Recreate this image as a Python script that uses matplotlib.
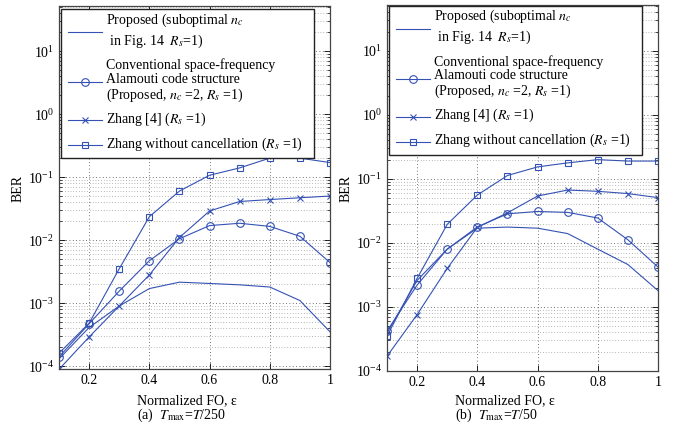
import matplotlib
matplotlib.use("Agg")
import matplotlib.pyplot as plt
from matplotlib.lines import Line2D
from matplotlib.patches import Rectangle

plt.rcParams['font.family'] = 'serif'
plt.rcParams['font.serif'] = ['Liberation Serif', 'DejaVu Serif']
plt.rcParams['mathtext.fontset'] = 'stix'
plt.rcParams['font.size'] = 10

# Normalized frequency offset
eps = [0.1, 0.2, 0.3, 0.4, 0.5, 0.6, 0.7, 0.8, 0.9, 1.0]

# (a) T_max = T/250
prop_a = [1.3e-4, 4.1e-4, 9.0e-4, 1.7e-3, 2.15e-3, 2.05e-3, 1.95e-3, 1.8e-3, 1.1e-3, 3.5e-4]
alam_a = [1.4e-4, 4.7e-4, 1.55e-3, 4.7e-3, 1.05e-2, 1.7e-2, 1.85e-2, 1.65e-2, 1.15e-2, 4.4e-3]
zhang_a = [8.9e-5, 2.9e-4, 9.0e-4, 2.8e-3, 1.1e-2, 2.9e-2, 4.1e-2, 4.4e-2, 4.7e-2, 5.0e-2]
nocan_a = [1.6e-4, 4.8e-4, 3.5e-3, 2.35e-2, 6.0e-2, 1.07e-1, 1.4e-1, 2.0e-1, 2.0e-1, 1.7e-1]

# (b) T_max = T/50
prop_b = [3.9e-4, 2.6e-3, 8.0e-3, 1.7e-2, 1.77e-2, 1.7e-2, 1.4e-2, 8.0e-3, 4.6e-3, 1.8e-3]
alam_b = [4.2e-4, 2.2e-3, 8.0e-3, 1.78e-2, 2.85e-2, 3.1e-2, 3.0e-2, 2.45e-2, 1.12e-2, 4.2e-3]
zhang_b = [1.7e-4, 7.6e-4, 4.0e-3, 1.75e-2, 2.95e-2, 5.4e-2, 6.7e-2, 6.4e-2, 5.9e-2, 5.1e-2]
nocan_b = [3.5e-4, 2.8e-3, 1.95e-2, 5.6e-2, 1.13e-1, 1.54e-1, 1.78e-1, 2.0e-1, 1.9e-1, 1.9e-1]

xticks = [0.2, 0.4, 0.6, 0.8, 1.0]
xticklabels = ['0.2', '0.4', '0.6', '0.8', '1']

COLOR = '#3452b4'
styles = [
    dict(marker='None'),
    dict(marker='o', ms=5.5, mfc='none'),
    dict(marker='x', ms=4),
    dict(marker='s', ms=4.2, mfc='none'),
]

legend_labels = [
    'Proposed (suboptimal $\\mathit{n}_{c}$\n in Fig. 14  $\\mathit{R}_{s}$=1)',
    'Conventional space-frequency\nAlamouti code structure\n'
    '(Proposed, $\\mathit{n}_{c}$ =2, $\\mathit{R}_{s}$ =1)',
    'Zhang [4] ($\\mathit{R}_{s}$ =1)',
    'Zhang without cancellation ($\\mathit{R}_{s}$ =1)',
]
# last-line baseline (figure px from top), line spacing, handle position
label_base = [44.5, 98.5, 122.5, 147.5]
label_spacing = [1.28, 1.05, 1.2, 1.2]
handle_y = [32, 82, 120, 145]

W, H = 673, 428
fig = plt.figure(figsize=(W / 100, H / 100), dpi=100)


def make_axes(x0, x1, top, bottom):
    return fig.add_axes([x0 / W, (H - bottom) / H, (x1 - x0) / W, (bottom - top) / H])


def draw_panel(ax, x0, top, series, ylim, caption, dy):
    w = ax.bbox.width
    h = ax.bbox.height
    for vals, st in zip(series, styles):
        ax.plot(eps, vals, color=COLOR, lw=0.8, mew=0.8, clip_on=True, **st)
    ax.set_yscale('log')
    ax.set_xlim(0.1, 1.0)
    ax.set_ylim(*ylim)
    ax.set_xticks(xticks)
    ax.set_xticklabels(xticklabels)
    ax.tick_params(which='both', direction='in', top=True, right=True, labelsize=10)
    ax.tick_params(which='major', length=4, width=0.6)
    ax.tick_params(which='minor', length=2, width=0.5)
    ax.grid(True, which='major', ls=(0, (1, 3)), color='#444444', lw=0.6)
    ax.grid(True, which='minor', axis='y', ls=(0, (1, 3)), color='#777777', lw=0.5)
    for s in ax.spines.values():
        s.set_color('#444444')
        s.set_linewidth(0.9)

    def fx(px):
        return (px - x0) / w

    def fy(py):
        return 1 - (py - top) / h

    # legend box
    bx0, bx1, by0, by1 = x0 + 2, x0 + 255, 9 + dy, 158 + dy
    ax.add_patch(Rectangle((fx(bx0), fy(by1)), fx(bx1) - fx(bx0), fy(by0) - fy(by1),
                           transform=ax.transAxes, facecolor='white',
                           edgecolor='#222222', lw=1.0, zorder=10, clip_on=False))
    for label, base, ls, hy, st in zip(legend_labels, label_base, label_spacing,
                                       handle_y, styles):
        yy = fy(hy + dy)
        ax.add_line(Line2D([fx(x0 + 9), fx(x0 + 43)], [yy, yy], transform=ax.transAxes,
                           color=COLOR, lw=0.8, zorder=11, clip_on=False))
        if st['marker'] != 'None':
            ax.add_line(Line2D([fx(x0 + 26)], [yy], transform=ax.transAxes, color=COLOR,
                               mew=0.8, zorder=11, clip_on=False, ls='None', **st))
        ax.text(fx(x0 + 47), fy(base + dy), label, transform=ax.transAxes,
                ha='left', va='baseline', fontsize=10, zorder=12, linespacing=ls)

    # axis labels and caption
    ax.text(fx(x0 - 41), fy(188), 'BER', transform=ax.transAxes, rotation=90,
            ha='center', va='center', fontsize=10)
    lx = x0 + 78 if x0 < 100 else x0 + 68
    ax.text(fx(lx), fy(418.5), 'Normalized FO, ε\n' + caption,
            transform=ax.transAxes, ha='left', va='baseline', fontsize=10,
            linespacing=0.97)


ax1 = make_axes(59, 330, 6.5, 369.3)
ax2 = make_axes(387, 658, 5, 371)
draw_panel(ax1, 59, 6.5, [prop_a, alam_a, zhang_a, nocan_a], (8.9e-5, 51),
           '(a)  $\\mathit{T}_{\\mathrm{max}}$=$\\mathit{T}$/250', 0)
draw_panel(ax2, 387, 5, [prop_b, alam_b, zhang_b, nocan_b], (1e-4, 52),
           '(b)  $\\mathit{T}_{\\mathrm{max}}$=$\\mathit{T}$/50', -3.5)

fig.savefig('out.png', dpi=100)
